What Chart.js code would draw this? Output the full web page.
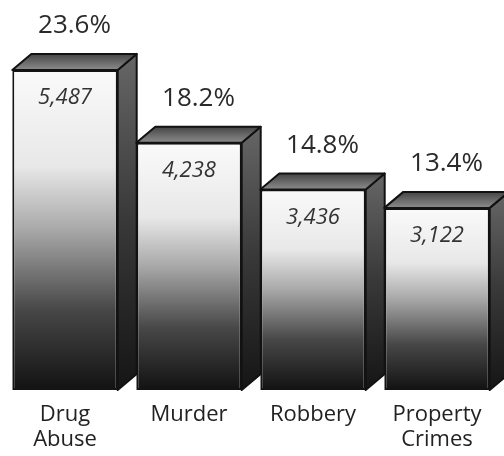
<!DOCTYPE html>
<html>
<head>
<meta charset="utf-8">
<script src="https://cdn.jsdelivr.net/npm/chart.js@4.4.1/dist/chart.umd.min.js"></script>
<style>
  html, body { margin: 0; padding: 0; background: #fff; }
  #wrap { width: 504px; height: 456px; }
</style>
</head>
<body>
<div id="wrap"><canvas id="chart-crimes"></canvas></div>
<script>
// data
const categories = [["Drug", "Abuse"], "Murder", "Robbery", ["Property", "Crimes"]];
const arrestCounts = [5487, 4238, 3436, 3122];
const percentShares = [23.6, 18.2, 14.8, 13.4];
const axisMax = 6000;

// fake 3d depth of the bars
const depthX = 19;
const depthY = 16;
const fontFamily = "'Open Sans', 'Noto Sans', sans-serif";

// front face: light at the top, dark at the bottom
function frontGradient(context) {
  const chart = context.chart;
  if (!chart.chartArea) return "#cccccc";
  const top = chart.scales.y.getPixelForValue(context.raw);
  const bottom = chart.scales.y.getPixelForValue(0);
  const g = chart.ctx.createLinearGradient(0, top, 0, bottom);
  g.addColorStop(0, "#fafafa");
  g.addColorStop(0.3, "#e8e8e8");
  g.addColorStop(0.5, "#a8a8a8");
  g.addColorStop(0.75, "#474747");
  g.addColorStop(1, "#121212");
  return g;
}

const bar3d = {
  id: "bar3d",
  afterDatasetsDraw(chart) {
    const ctx = chart.ctx;
    const meta = chart.getDatasetMeta(0);
    meta.data.forEach((bar, i) => {
      const { x, y, base, width } = bar.getProps(["x", "y", "base", "width"], true);
      const left = x - width / 2;
      const right = x + width / 2;
      ctx.save();
      ctx.lineJoin = "round";
      ctx.strokeStyle = "#121212";
      ctx.lineWidth = 2;

      // side face
      const side = ctx.createLinearGradient(0, y - depthY, 0, base);
      side.addColorStop(0, "#666666");
      side.addColorStop(0.5, "#383838");
      side.addColorStop(1, "#151515");
      ctx.beginPath();
      ctx.moveTo(right, y);
      ctx.lineTo(right + depthX, y - depthY);
      ctx.lineTo(right + depthX, base - depthY);
      ctx.lineTo(right, base);
      ctx.closePath();
      ctx.fillStyle = side;
      ctx.fill();
      ctx.stroke();

      // top face
      const topFace = ctx.createLinearGradient(0, y - depthY, 0, y);
      topFace.addColorStop(0, "#454545");
      topFace.addColorStop(1, "#8c8c8c");
      ctx.beginPath();
      ctx.moveTo(left, y);
      ctx.lineTo(left + depthX, y - depthY);
      ctx.lineTo(right + depthX, y - depthY);
      ctx.lineTo(right, y);
      ctx.closePath();
      ctx.fillStyle = topFace;
      ctx.fill();
      ctx.stroke();

      // percent above, count inside
      ctx.textAlign = "center";
      ctx.textBaseline = "alphabetic";
      ctx.fillStyle = "#2a2a2a";
      ctx.font = "26px " + fontFamily;
      ctx.fillText(percentShares[i].toFixed(1) + "%", x + depthX / 2, y - depthY - 21);
      ctx.fillStyle = "#333333";
      ctx.font = "italic 22px " + fontFamily;
      ctx.fillText(arrestCounts[i].toLocaleString("en-US"), x, y + 34);
      ctx.restore();
    });
  },
};

const ctxCrimes = document.getElementById("chart-crimes");
new Chart(ctxCrimes, {
  type: "bar",
  data: {
    labels: categories,
    datasets: [
      {
        label: "Arrests",
        data: arrestCounts,
        backgroundColor: frontGradient,
        borderColor: "#141414",
        borderWidth: 2,
        borderSkipped: false,
        barPercentage: 0.85,
        categoryPercentage: 1,
      },
    ],
  },
  options: {
    responsive: true,
    maintainAspectRatio: false,
    animation: false,
    layout: { padding: { top: 40, left: 3, right: 5, bottom: 0 } },
    plugins: {
      legend: { display: false },
      tooltip: { enabled: false },
    },
    scales: {
      x: {
        grid: { display: false, drawTicks: false },
        border: { display: false },
        ticks: {
          color: "#222222",
          padding: 13,
          font: { family: fontFamily, size: 22, lineHeight: 1.1 },
          maxRotation: 0,
          autoSkip: false,
        },
        afterFit(scale) {
          scale.height = 66;
        },
      },
      y: {
        display: false,
        min: 0,
        max: axisMax,
      },
    },
  },
  plugins: [bar3d],
});
</script>
</body>
</html>
